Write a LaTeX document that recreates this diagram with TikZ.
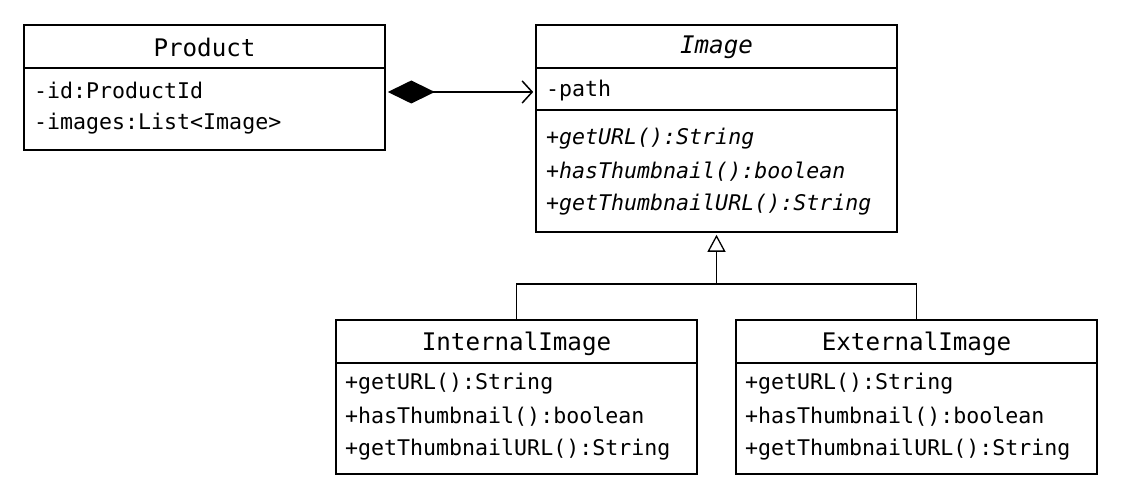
\documentclass[tikz,border=0pt]{standalone}
\usepackage{fontspec}
\setmonofont{DejaVu Sans Mono}
\usetikzlibrary{arrows.meta}
\begin{document}
\begin{tikzpicture}[x=1pt,y=-1pt,
  classbox/.style={draw=black,line width=1.6pt,inner sep=0pt,minimum width=361pt},
  ttl/.style={inner sep=0pt,anchor=center,font=\fontsize{24.2}{28}\selectfont\ttfamily},
  mem/.style={inner sep=0pt,anchor=west,font=\fontsize{21.6}{26}\selectfont\ttfamily},
  divider/.style={line width=1.6pt},
  conn/.style={line width=1.5pt}]
\useasboundingbox (0,0) rectangle (1138,494);
% Product
\node[classbox,minimum height=125pt] (product) at (204.5,87.5) {};
\draw[divider] (product.west |- 0,68) -- (product.east |- 0,68);
\node[ttl] (ptitle) at (204.5,47) {Product};
\node[mem] (pa1) at (34,90.5) {-id:ProductId};
\node[mem] (pa2) at (34,123.5) {-images:List<Image>};
% Image
\node[classbox,minimum height=207pt] (image) at (716.5,128.5) {};
\draw[divider] (image.west |- 0,68) -- (image.east |- 0,68);
\draw[divider] (image.west |- 0,110) -- (image.east |- 0,110);
\node[ttl] (ititle) at (716.5,47) {\itshape Image};
\node[mem] (ia1) at (546,90.5) {-path};
\node[mem] (im1) at (546,138.5) {\itshape +getURL():String};
\node[mem] (im2) at (546,171.5) {\itshape +hasThumbnail():boolean};
\node[mem] (im3) at (546,204.5) {\itshape +getThumbnailURL():String};
% InternalImage
\node[classbox,minimum height=154pt] (internal) at (516.5,397) {};
\draw[divider] (internal.west |- 0,363) -- (internal.east |- 0,363);
\node[ttl] (intitle) at (516.5,344) {InternalImage};
\node[mem] (inm1) at (345,383.5) {+getURL():String};
\node[mem] (inm2) at (345,416.5) {+hasThumbnail():boolean};
\node[mem] (inm3) at (345,449.5) {+getThumbnailURL():String};
% ExternalImage
\node[classbox,minimum height=154pt] (external) at (916.5,397) {};
\draw[divider] (external.west |- 0,363) -- (external.east |- 0,363);
\node[ttl] (extitle) at (916.5,344) {ExternalImage};
\node[mem] (exm1) at (745,383.5) {+getURL():String};
\node[mem] (exm2) at (745,416.5) {+hasThumbnail():boolean};
\node[mem] (exm3) at (745,449.5) {+getThumbnailURL():String};
% composition
\draw[conn,{Diamond[length=47pt,width=23pt,fill=black]}-{Straight Barb[length=10pt,width=22pt,line width=1.5pt]},shorten <=2pt,shorten >=2pt]
  (product.east |- 0,92) -- (image.west |- 0,92);
% generalization
\coordinate (j) at (716.5,284);
\draw[conn] (internal.north) |- (j);
\draw[conn] (external.north) |- (j);
\draw[conn,-{Triangle[open,length=17pt,width=18pt,fill=white,line width=1.3pt]},shorten >=2pt] (j) -- (image.south);
\end{tikzpicture}
\end{document}
